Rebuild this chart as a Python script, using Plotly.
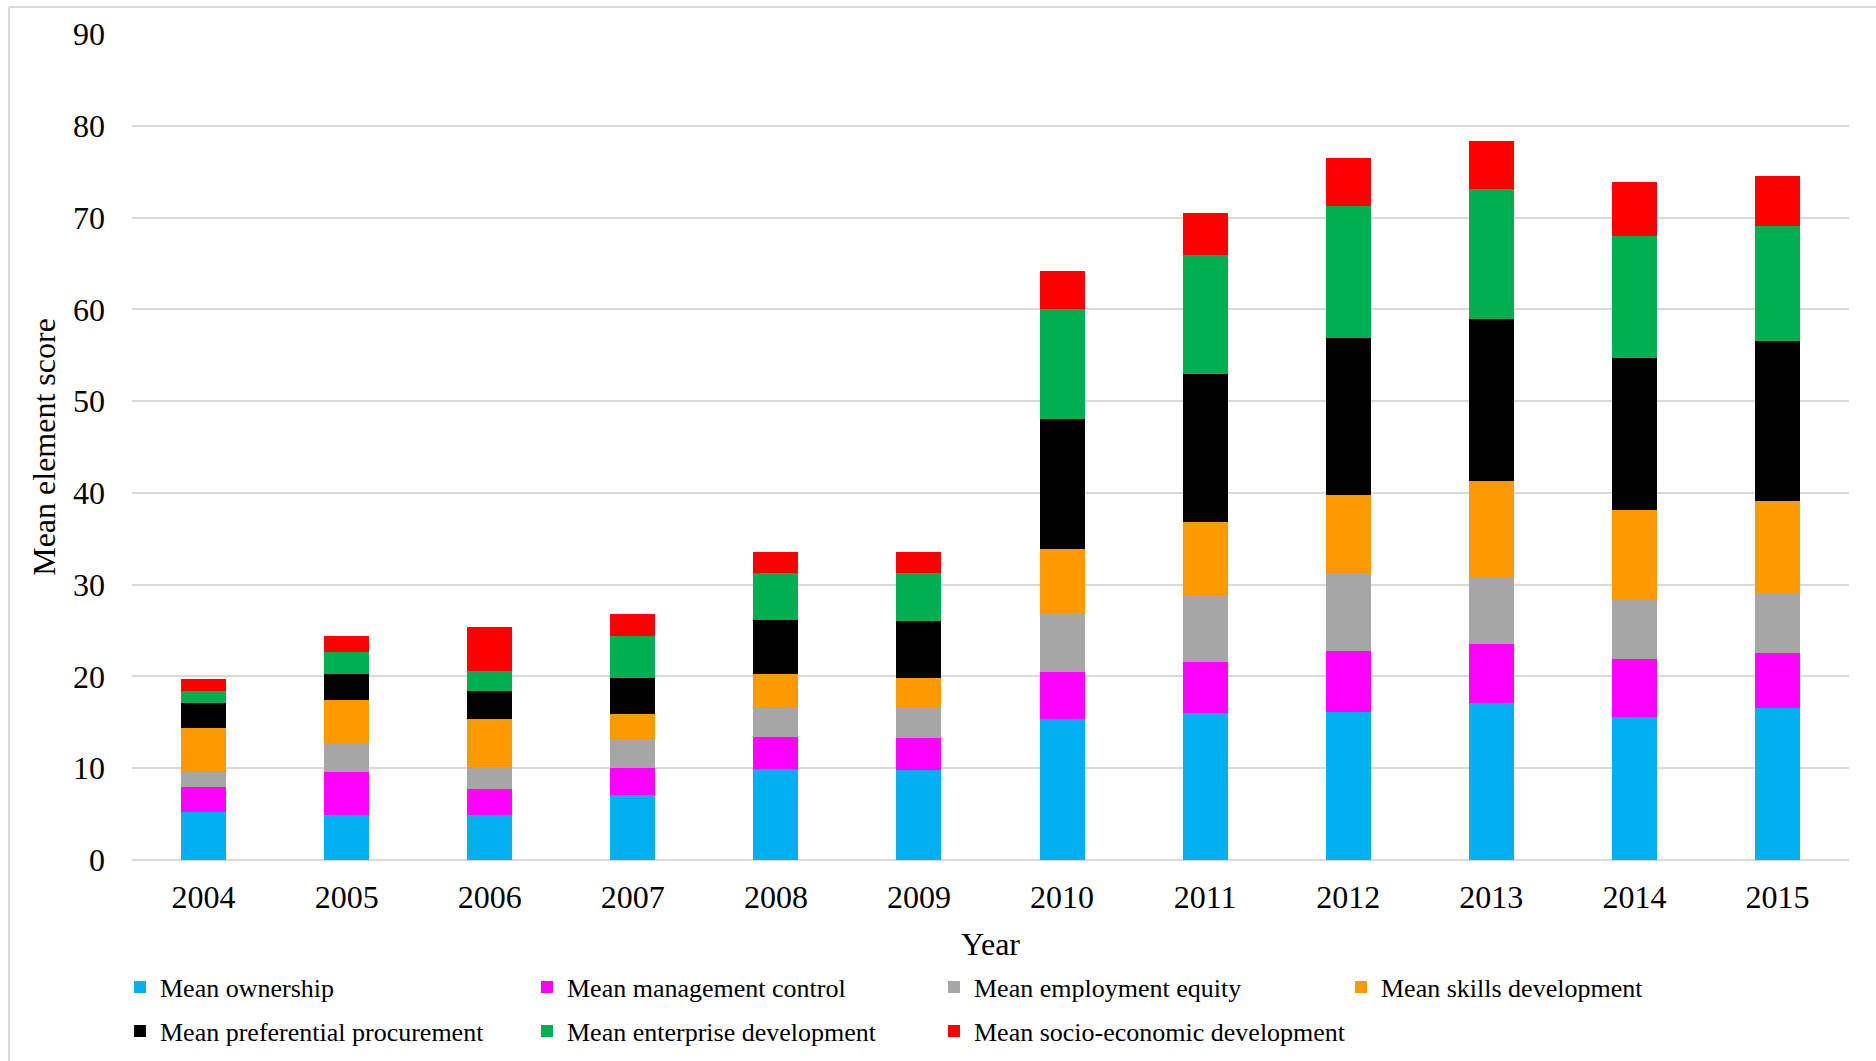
import plotly.graph_objects as go

years = ["2004", "2005", "2006", "2007", "2008", "2009", "2010", "2011", "2012", "2013", "2014", "2015"]

ownership = [5.28, 4.95, 4.85, 7.07, 9.89, 9.78, 15.34, 16.06, 16.18, 17.07, 15.62, 16.51]
management_control = [2.66, 4.67, 2.91, 2.95, 3.51, 3.51, 5.17, 5.56, 6.61, 6.44, 6.28, 6.00]
employment_equity = [1.68, 3.06, 2.37, 3.20, 3.11, 3.33, 6.45, 7.23, 8.34, 7.34, 6.45, 6.56]
skills_development = [4.73, 4.77, 5.21, 2.66, 3.72, 3.22, 6.95, 8.00, 8.67, 10.45, 9.78, 10.01]
preferential_procurement = [2.81, 2.77, 3.09, 3.94, 5.90, 6.17, 14.12, 16.07, 17.06, 17.62, 16.62, 17.51]
enterprise_development = [1.27, 2.40, 2.12, 4.62, 5.11, 5.23, 12.00, 13.01, 14.35, 14.18, 13.23, 12.50]
socio_economic_development = [1.24, 1.82, 4.88, 2.41, 2.28, 2.28, 4.17, 4.61, 5.28, 5.28, 5.89, 5.45]

series_names = [
    "Mean ownership",
    "Mean management control",
    "Mean employment equity",
    "Mean skills development",
    "Mean preferential procurement",
    "Mean enterprise development",
    "Mean socio-economic development",
]
series_values = [
    ownership, management_control, employment_equity, skills_development,
    preferential_procurement, enterprise_development, socio_economic_development,
]
series_colors = ["#00B0F0", "#FF00FF", "#A6A6A6", "#FF9900", "#000000", "#00B050", "#FF0000"]

W, H = 1876, 1061
ML, MR, MT, MB = 132, 27, 34, 201
PW = W - ML - MR
PH = H - MT - MB


def px_x(p):
    return (p - ML) / PW


def px_y(p):
    return (H - MB - p) / PH


FONT = "Times New Roman, Liberation Serif, serif"

fig = go.Figure()
for i, (name, vals, col) in enumerate(zip(series_names, series_values, series_colors)):
    fig.add_trace(go.Bar(
        x=years, y=vals, name=name,
        marker=dict(color=col, line=dict(width=0)),
        legend="legend" if i < 4 else "legend2",
        legendwidth=450 if i == len(series_names) - 1 else None,
    ))

legend_common = dict(
    orientation="h",
    entrywidth=362,
    entrywidthmode="pixels",
    x=px_x(120),
    xanchor="left",
    yanchor="middle",
    font=dict(family=FONT, size=26, color="#000000"),
    bgcolor="rgba(0,0,0,0)",
    traceorder="normal",
)

fig.update_layout(
    width=W, height=H,
    margin=dict(l=ML, r=MR, t=MT, b=MB, autoexpand=False),
    barmode="stack",
    bargap=0.685,
    paper_bgcolor="#ffffff",
    plot_bgcolor="#ffffff",
    font=dict(family=FONT, size=32, color="#000000"),
    legend=dict(**legend_common, y=px_y(987)),
    legend2=dict(**legend_common, y=px_y(1031)),
    xaxis=dict(
        title=dict(text="Year", font=dict(family=FONT, size=32), standoff=18),
        tickfont=dict(family=FONT, size=32),
        showgrid=False,
        showline=False,
        ticks="",
        ticklabelstandoff=15,
    ),
    yaxis=dict(
        title=dict(text="Mean element score", font=dict(family=FONT, size=32), standoff=7),
        tickfont=dict(family=FONT, size=32),
        range=[0, 90],
        dtick=10,
        showgrid=True,
        gridcolor="#D9D9D9",
        gridwidth=1.5,
        zeroline=True,
        zerolinecolor="#D9D9D9",
        zerolinewidth=1.5,
        showline=False,
        ticks="",
        ticklabelstandoff=26,
    ),
    shapes=[
        dict(type="line", xref="paper", yref="paper",
             x0=px_x(9), x1=px_x(W + 5), y0=px_y(7), y1=px_y(7),
             line=dict(color="#D9D9D9", width=2), layer="below"),
        dict(type="line", xref="paper", yref="paper",
             x0=px_x(9), x1=px_x(9), y0=px_y(7), y1=px_y(H + 5),
             line=dict(color="#D9D9D9", width=2), layer="below"),
    ],
)

fig.write_html("out.html")
